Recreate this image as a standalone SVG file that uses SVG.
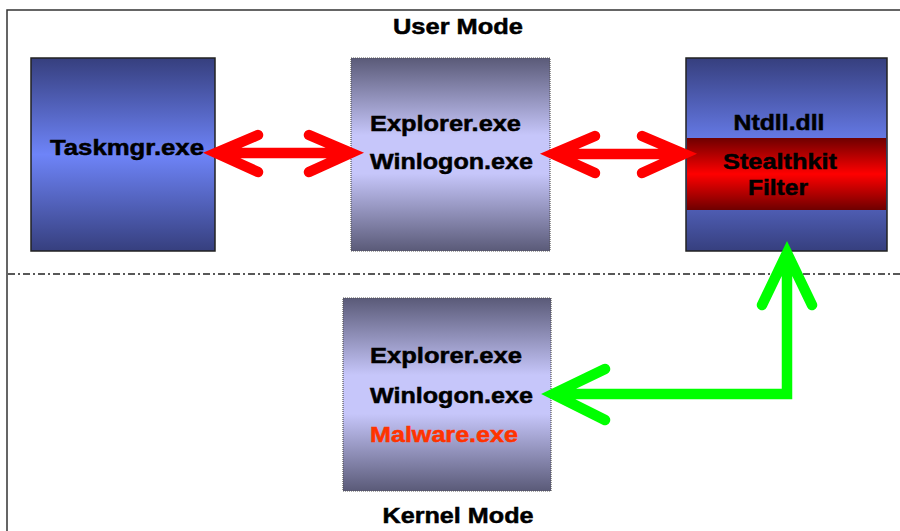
<svg xmlns="http://www.w3.org/2000/svg" width="900" height="531" viewBox="0 0 900 531">
<defs>
<linearGradient id="blue" x1="0" y1="0" x2="0" y2="1">
<stop offset="0" stop-color="#363f7e"/>
<stop offset="0.5" stop-color="#6e84f8"/>
<stop offset="1" stop-color="#363f7e"/>
</linearGradient>
<linearGradient id="lav" x1="0" y1="0" x2="0" y2="1">
<stop offset="0" stop-color="#5a5a78"/>
<stop offset="0.4" stop-color="#c6c6fa"/>
<stop offset="0.6" stop-color="#c6c6fa"/>
<stop offset="1" stop-color="#5a5a78"/>
</linearGradient>
<linearGradient id="red" x1="0" y1="0" x2="0" y2="1">
<stop offset="0" stop-color="#6e0000"/>
<stop offset="0.5" stop-color="#ff0000"/>
<stop offset="1" stop-color="#6e0000"/>
</linearGradient>
</defs>
<style>
text{font-family:"Liberation Sans",Arial,sans-serif;font-weight:bold;font-size:22px;fill:#000;stroke:#000;stroke-width:0.5}
.mal{fill:#ff3300;stroke:#ff3300}
.solid{stroke:#222;stroke-width:1.5}
.dot{stroke:#555;stroke-width:1.2;stroke-dasharray:1 1}
.red{fill:none;stroke:#ff0000;stroke-width:10.5;stroke-linecap:round;stroke-linejoin:miter}
.green{fill:none;stroke:#00ff00;stroke-width:10.5;stroke-linecap:round;stroke-linejoin:miter}
</style>
<rect width="900" height="531" fill="#fff"/>
<path d="M7 531 V10 H900" fill="none" stroke="#333" stroke-width="1.5"/>
<line x1="8" y1="274" x2="900" y2="274" stroke="#222" stroke-width="1.5" stroke-dasharray="7 3 2 3"/>
<text x="458" y="34" text-anchor="middle" textLength="130" lengthAdjust="spacingAndGlyphs">User Mode</text>
<text x="458" y="523" text-anchor="middle" textLength="151" lengthAdjust="spacingAndGlyphs">Kernel Mode</text>
<g id="taskmgr">
<rect x="31" y="58" width="184" height="193" fill="url(#blue)" class="solid"/>
<text x="50" y="155" textLength="154" lengthAdjust="spacingAndGlyphs">Taskmgr.exe</text>
</g>
<g id="user-procs">
<rect x="351" y="58" width="199" height="193" fill="url(#lav)" class="dot"/>
<text x="370" y="131" textLength="151" lengthAdjust="spacingAndGlyphs">Explorer.exe</text>
<text x="370" y="169" textLength="163" lengthAdjust="spacingAndGlyphs">Winlogon.exe</text>
</g>
<g id="ntdll">
<rect x="686" y="58" width="201" height="193" fill="url(#blue)" class="solid"/>
<rect x="687" y="138" width="199" height="72" fill="url(#red)"/>
<text x="779" y="130" text-anchor="middle" textLength="91" lengthAdjust="spacingAndGlyphs">Ntdll.dll</text>
<text x="780" y="169" text-anchor="middle" textLength="114" lengthAdjust="spacingAndGlyphs">Stealthkit</text>
<text x="778" y="195" text-anchor="middle" textLength="60" lengthAdjust="spacingAndGlyphs">Filter</text>
</g>
<g id="kernel-procs">
<rect x="343" y="298" width="208" height="193" fill="url(#lav)" class="dot"/>
<text x="370" y="363" textLength="152" lengthAdjust="spacingAndGlyphs">Explorer.exe</text>
<text x="370" y="403" textLength="163" lengthAdjust="spacingAndGlyphs">Winlogon.exe</text>
<text x="370" y="442" class="mal" textLength="148" lengthAdjust="spacingAndGlyphs">Malware.exe</text>
</g>
<g id="connectors">
<path class="red" d="M220 153 H347 M258 135 L216 153 L258 172 M309 135 L351 153 L309 172"/>
<path class="red" d="M557 154 H680 M595 136 L553 154 L595 173 M642 136 L684 154 L642 173"/>
<path class="green" d="M560 394 H787 V258 M762 305 L787 253 L812 305 M605 369 L553 394 L605 420"/>
</g>
</svg>
